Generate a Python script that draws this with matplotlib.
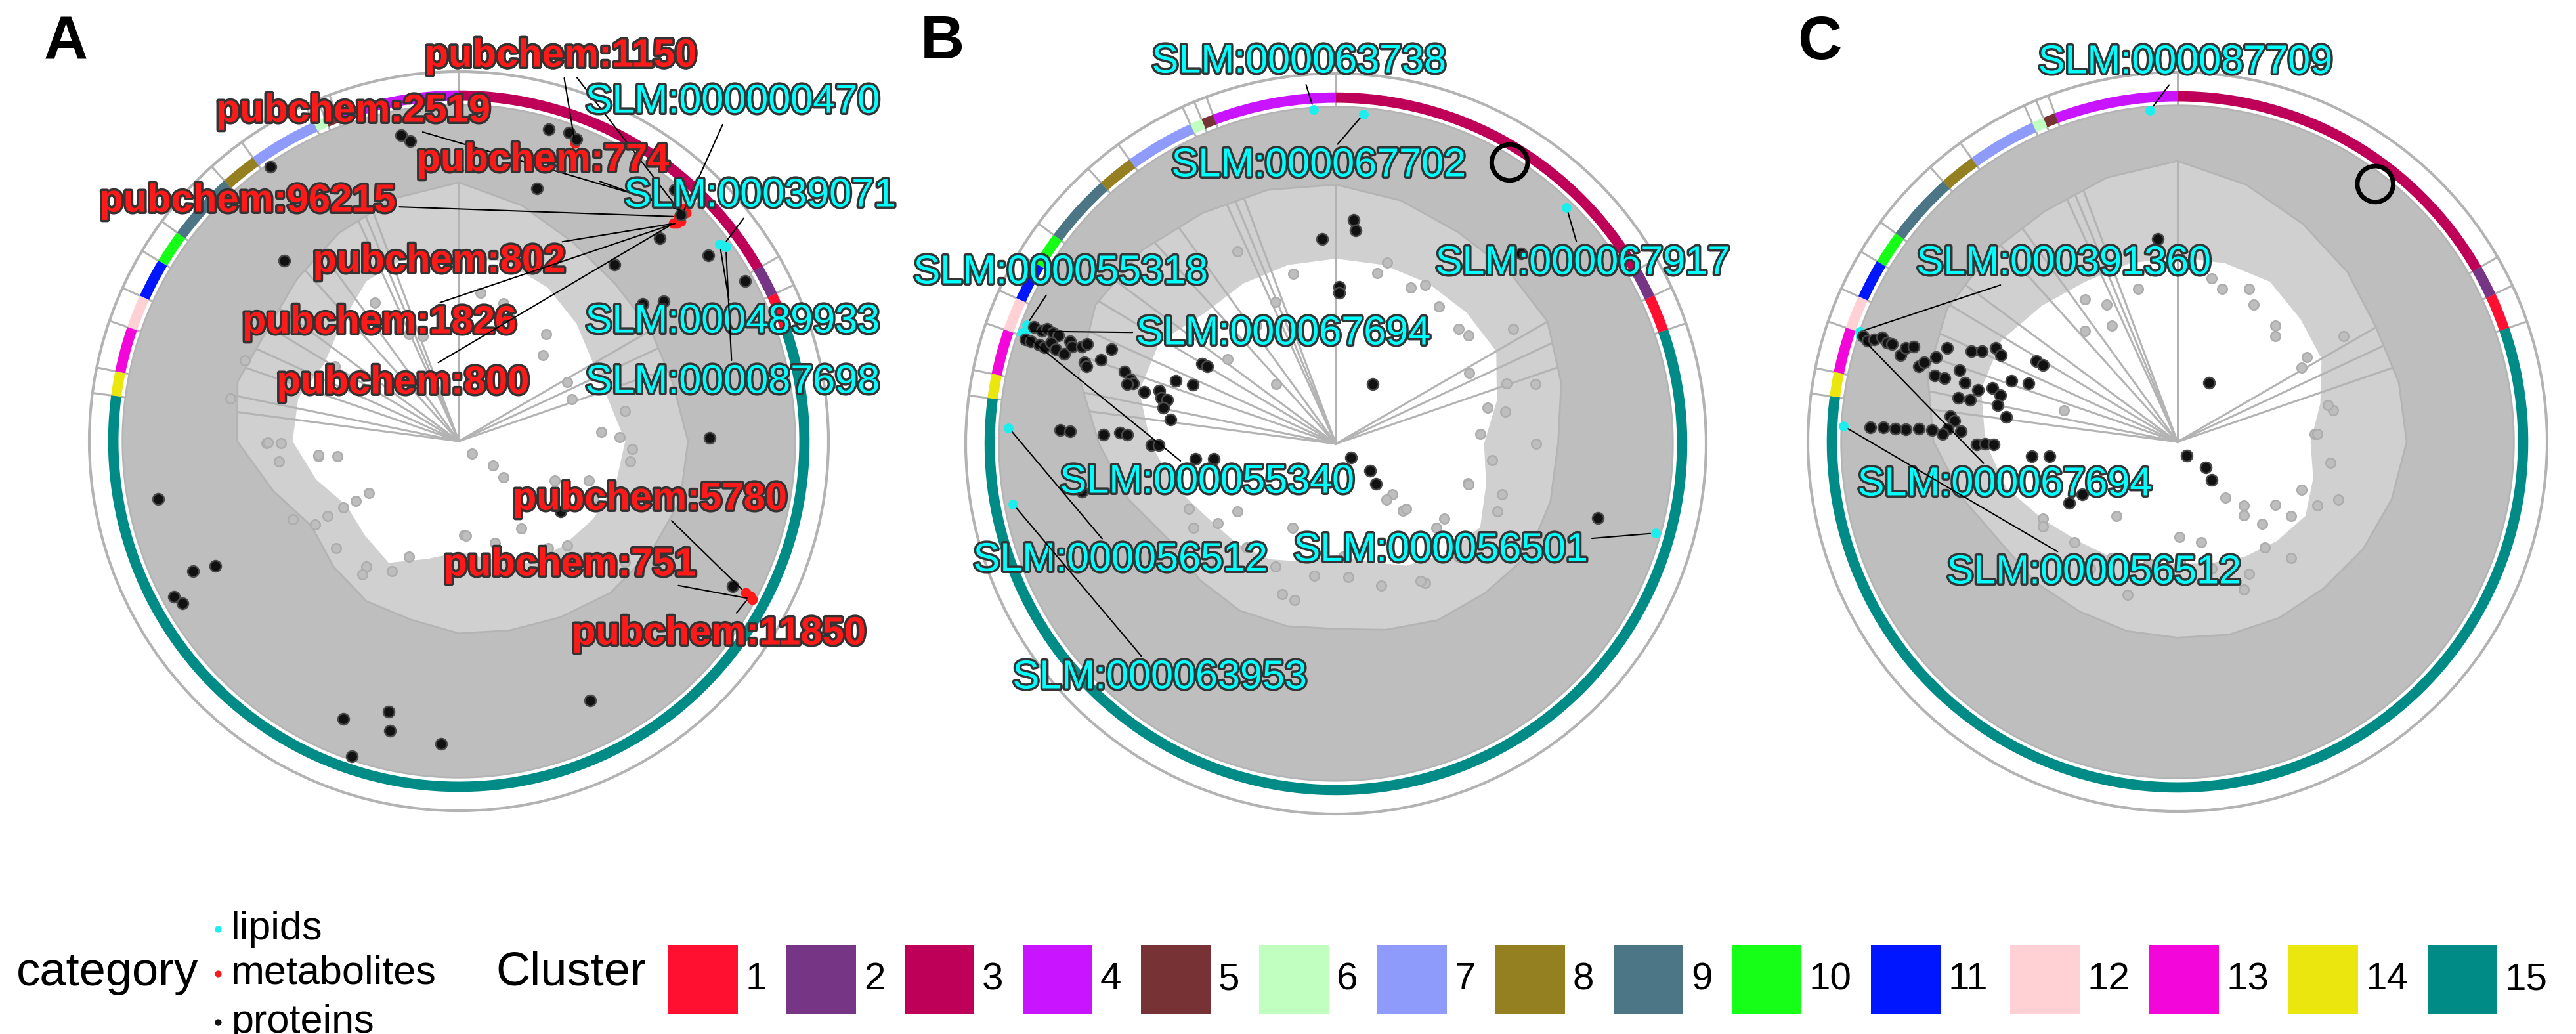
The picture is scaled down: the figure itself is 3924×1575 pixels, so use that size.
import numpy as np
import matplotlib
matplotlib.use("Agg")
import matplotlib.pyplot as plt
import matplotlib.patheffects as pe
from matplotlib.patches import PathPatch, Rectangle
from matplotlib.path import Path

plt.rcParams["font.family"] = ["Liberation Sans", "DejaVu Sans"]

W, H = 3924, 1575

# ---------------- data ----------------
# clusters around the circle, angles in degrees clockwise from 12 o'clock
cluster_ids = [1, 2, 3, 4, 5, 6, 7, 8, 9, 10, 11, 12, 13, 14, 15]
cluster_colors = ["#FF1030", "#773585", "#BE0058", "#C814FF", "#773235",
                  "#C1FFC1", "#8E9BFA", "#958021", "#4C7686", "#16FF16",
                  "#0016FF", "#FFD1D4", "#F206DA", "#ECE60F", "#008B87"]
cluster_start = [65, 60, 0, 339.5, 337.5, 335.5, 324, 318, 306.5, 301,
                 294.5, 289, 281.5, 277.5, 71]
cluster_end = [71, 65, 60, 360, 339.5, 337.5, 335.5, 324, 318, 306.5,
               301, 294.5, 289, 281.5, 277.5]

# grey cloud: radius where the dense part starts, and where the loose part ends
cloud_angle = [0, 15, 30, 45, 60, 75, 90, 105, 120, 135, 150, 165,
               180, 195, 210, 225, 240, 255, 270, 285, 300, 315, 330, 345]
a_dense = [0.7, 0.66, 0.62, 0.6, 0.6, 0.6, 0.62, 0.62, 0.6, 0.58, 0.55, 0.53,
           0.52, 0.5, 0.5, 0.48, 0.46, 0.52, 0.6, 0.62, 0.6, 0.62, 0.65, 0.68]
a_hole = [0.5, 0.5, 0.48, 0.45, 0.42, 0.42, 0.45, 0.44, 0.42, 0.4, 0.38, 0.33,
          0.3, 0.33, 0.38, 0.36, 0.35, 0.4, 0.45, 0.45, 0.42, 0.45, 0.5, 0.52]
b_dense = [0.7, 0.68, 0.66, 0.66, 0.66, 0.63, 0.6, 0.6, 0.6, 0.57, 0.55, 0.52,
           0.5, 0.51, 0.52, 0.52, 0.52, 0.58, 0.64, 0.72, 0.75, 0.74, 0.72, 0.71]
b_hole = [0.5, 0.5, 0.5, 0.5, 0.5, 0.45, 0.4, 0.42, 0.45, 0.42, 0.38, 0.33,
          0.3, 0.33, 0.36, 0.38, 0.4, 0.45, 0.5, 0.55, 0.55, 0.5, 0.5, 0.5]
c_dense = [0.76, 0.72, 0.68, 0.65, 0.62, 0.62, 0.62, 0.6, 0.58, 0.56, 0.55, 0.54,
           0.53, 0.53, 0.53, 0.54, 0.55, 0.6, 0.66, 0.7, 0.72, 0.72, 0.72, 0.74]
c_hole = [0.5, 0.5, 0.5, 0.47, 0.45, 0.4, 0.36, 0.38, 0.4, 0.38, 0.36, 0.34,
          0.33, 0.34, 0.36, 0.38, 0.42, 0.48, 0.52, 0.55, 0.55, 0.52, 0.5, 0.5]

# loose grey points inside the cloud's hollow (angle, radius)
a_sparse = [(132.6, 0.049), (125.3, 0.114), (128.7, 0.155), (264, 0.383), (263, 0.331),
            (240, 0.322), (240, 0.28), (176.8, 0.255), (86.4, 0.386), (79.7, 0.457),
            (96.7, 0.467), (269.5, 0.521), (263.6, 0.489), (216.3, 0.422), (203.5, 0.34),
            (156.2, 0.372), (134, 0.407), (112.9, 0.396), (107.9, 0.548), (334.8, 0.319),
            (18, 0.393), (39.2, 0.373), (61.4, 0.334), (301.1, 0.392),
            (269.7, 0.517), (269.4, 0.482), (264.5, 0.381), (240.1, 0.36), (240.3, 0.408),
            (240, 0.45), (244.8, 0.496), (229, 0.44), (215.8, 0.445), (207.2, 0.395),
            (175.6, 0.257), (160.5, 0.293), (144.5, 0.291), (106.9, 0.367), (88.6, 0.436),
            (92.7, 0.469), (140.2, 0.376), (126.1, 0.556), (112.3, 0.281), (341, 0.3),
            (328.7, 0.439), (8.3, 0.405), (22.1, 0.363), (44.5, 0.325), (69.5, 0.327),
            (290.4, 0.479), (290.7, 0.619), (280.5, 0.629)]
b_sparse = [(86, 0.391), (79.3, 0.466), (62.1, 0.408), (73.4, 0.563), (106.7, 0.373),
            (112.7, 0.472), (135, 0.257), (129.9, 0.353), (132, 0.205), (207.2, 0.255),
            (235.6, 0.322), (239.5, 0.446), (174.8, 0.362), (199.8, 0.431), (147.3, 0.447),
            (345.8, 0.473), (15.7, 0.508), (29.4, 0.492), (332.9, 0.583), (46.9, 0.453),
            (57.1, 0.571), (315, 0.228),
            (137.6, 0.203), (132.9, 0.258), (124.6, 0.355), (96.1, 0.425), (107.2, 0.374),
            (106.9, 0.469), (76.6, 0.421), (70.6, 0.489), (50.7, 0.462), (37, 0.464),
            (25.5, 0.468), (13.5, 0.475), (337, 0.417), (326, 0.384), (307.9, 0.371),
            (176.3, 0.306), (189.3, 0.362), (206.1, 0.369), (220.7, 0.369), (236, 0.384),
            (246.1, 0.434), (162.2, 0.403), (148.4, 0.435), (132.7, 0.451), (194.7, 0.437),
            (227.2, 0.469), (90, 0.54)]
c_sparse = [(86.7, 0.372), (78.5, 0.43), (59.2, 0.391), (122.9, 0.315), (114.4, 0.416),
            (138.2, 0.268), (140.5, 0.37), (178.7, 0.321), (166.7, 0.279), (219.4, 0.259),
            (240.4, 0.419), (214.5, 0.416), (155.9, 0.438), (330.4, 0.361), (16.3, 0.432),
            (29.1, 0.425), (327, 0.46), (42.8, 0.389), (285.6, 0.319), (57.6, 0.533),
            (139.4, 0.198), (133.8, 0.248), (134.1, 0.318), (123.1, 0.367), (86.8, 0.379),
            (97.9, 0.418), (111, 0.36), (109.8, 0.463), (76.2, 0.419), (56.9, 0.418),
            (40.1, 0.411), (25, 0.457), (11.8, 0.452), (345.5, 0.428), (332.6, 0.418),
            (320.2, 0.39), (179, 0.257), (193.4, 0.338), (209.6, 0.361), (225.7, 0.389),
            (237.9, 0.43), (164.8, 0.355), (151.6, 0.406), (135.7, 0.44), (198.1, 0.436),
            (227.9, 0.49)]

# proteins (angle, radius)
a_proteins = [(349.3, 0.842), (350.8, 0.823), (16.1, 0.879), (19.7, 0.887), (21.3, 0.877),
              (325.5, 0.90), (17.2, 0.715), (40.7, 0.897), (44.4, 0.858), (44.7, 0.772),
              (41.4, 0.637), (315.9, 0.680), (53.3, 0.842), (60.8, 0.888), (53.3, 0.62),
              (55.7, 0.671), (89.2, 0.679), (124.6, 0.335), (118.0, 0.838), (153.2, 0.786),
              (183.3, 0.82), (193.4, 0.806), (194.6, 0.757), (202.6, 0.814), (198.8, 0.90),
              (259.1, 0.828), (243.9, 0.801), (242.8, 0.74), (241.3, 0.878), (239.6, 0.866)]
b_proteins = [(4.6, 0.607), (5.2, 0.578), (356.1, 0.554), (1.2, 0.423), (1.3, 0.408),
              (44.2, 0.717), (31.8, 0.189), (132.8, 0.055), (128.3, 0.118), (134.6, 0.153),
              (105.8, 0.735), (263.9, 0.381), (263, 0.332), (259.3, 0.698),
              (291.1, 0.875), (291.0, 0.851), (291.7, 0.839), (291.4, 0.821), (291.3, 0.805),
              (288.6, 0.885), (288.6, 0.869), (288.5, 0.845), (288.3, 0.829), (289.5, 0.816),
              (288.7, 0.799), (288.3, 0.774), (291.1, 0.769), (290.2, 0.759), (290.9, 0.734),
              (291.8, 0.724), (292.8, 0.657), (289.6, 0.674), (288.0, 0.714), (287.2, 0.705),
              (288.9, 0.603), (287.3, 0.582), (286.6, 0.572), (285.9, 0.586), (285.1, 0.537),
              (286.7, 0.498), (284.7, 0.487), (284.7, 0.471), (281.9, 0.477), (278.3, 0.452),
              (291.5, 0.465), (292.4, 0.419), (300.8, 0.422), (301.0, 0.405), (272.8, 0.746),
              (272.7, 0.718), (272.3, 0.628), (272.9, 0.584), (272.6, 0.564), (269.5, 0.499),
              (269.5, 0.478)]
c_proteins = [(354.5, 0.551), (28.2, 0.181), (145.3, 0.045), (132.2, 0.102), (137.9, 0.139),
              (264.4, 0.397), (263.7, 0.349), (240.7, 0.336), (240.9, 0.294),
              (288.6, 0.897), (288.1, 0.882), (288.7, 0.867), (289.4, 0.848), (288.9, 0.830),
              (288.9, 0.816), (287.4, 0.786), (289.1, 0.778), (289.8, 0.759), (286.3, 0.729),
              (287.4, 0.718), (289.3, 0.692), (292.1, 0.673), (285.2, 0.681), (285.2, 0.654),
              (288.1, 0.621), (293.8, 0.609), (294.9, 0.583), (297.2, 0.554), (296.2, 0.533),
              (299.8, 0.44), (299.6, 0.419), (290.1, 0.479), (291.3, 0.433), (285.5, 0.598),
              (284.5, 0.558), (281.3, 0.605), (281.5, 0.573), (286.3, 0.521), (284.7, 0.495),
              (281.6, 0.496), (278.2, 0.469), (276.4, 0.618), (275.4, 0.607), (272.8, 0.586),
              (273.3, 0.622), (271.9, 0.636), (272.8, 0.665), (272.9, 0.701), (272.6, 0.736),
              (272.7, 0.765), (272.8, 0.797), (272.7, 0.832), (269.2, 0.543), (269.5, 0.521),
              (269.2, 0.497)]

# lipids and metabolites with their ids (angle, radius, id)
a_lipids = [(44.6, 0.86, "SLM:000000470"), (53.5, 0.889, "SLM:00039071"),
            (53.0, 0.884, "SLM:000489933"), (54.0, 0.893, "SLM:000087698")]
a_metabolites = [(21.3, 0.865, "pubchem:1150"), (44.3, 0.862, "pubchem:1150"),
                 (44.0, 0.875, "pubchem:2519"), (44.8, 0.872, "pubchem:774"),
                 (44.4, 0.85, "pubchem:96215"), (45.0, 0.835, "pubchem:802"),
                 (45.3, 0.845, "pubchem:1826"), (44.6, 0.828, "pubchem:800"),
                 (117.9, 0.878, "pubchem:5780"), (118.3, 0.902, "pubchem:751"),
                 (118.0, 0.893, "pubchem:11850")]
b_lipids = [(356.2, 0.905, "SLM:000063738"), (4.8, 0.894, "SLM:000067702"),
            (44.3, 0.892, "SLM:000067917"), (291.0, 0.895, "SLM:000055318"),
            (290.0, 0.89, "SLM:000067694"), (289.5, 0.9, "SLM:000055340"),
            (272.8, 0.885, "SLM:000056512"), (259.4, 0.887, "SLM:000063953"),
            (105.6, 0.897, "SLM:000056501")]
c_lipids = [(355.3, 0.90, "SLM:000087709"), (289.1, 0.91, "SLM:000391360"),
            (288.3, 0.903, "SLM:000067694"), (272.7, 0.905, "SLM:000056512")]

# highlighted spot (open ring) in B and C
b_ring_mark = (31.7, 0.893)
c_ring_mark = (37.5, 0.879)

category_names = ["lipids", "metabolites", "proteins"]

# ---------------- layout ----------------
GREY = "#BEBEBE"
LOOSE_GREY = "#D0D0D0"
LINE_GREY = "#B3B3B3"
CYAN = "#1CEEEE"
RED = "#FF1A1A"
CLOUD_R = 0.91

# label centres in pixels from the top-left corner of the figure
a_label_xy = {"pubchem:1150": (854, 86), "pubchem:2519": (538, 170),
              "pubchem:774": (827, 245), "pubchem:96215": (377, 307),
              "pubchem:802": (669, 399), "pubchem:1826": (578, 492),
              "pubchem:800": (614, 584), "SLM:000000470": (1116, 156),
              "SLM:00039071": (1158, 299), "SLM:000489933": (1116, 491),
              "SLM:000087698": (1116, 583), "pubchem:5780": (990, 761),
              "pubchem:751": (868, 861), "pubchem:11850": (1095, 966)}
b_label_xy = {"SLM:000063738": (1979, 95), "SLM:000067702": (2009, 253),
              "SLM:000067917": (2411, 402), "SLM:000055318": (1616, 416),
              "SLM:000067694": (1955, 509), "SLM:000055340": (1839, 735),
              "SLM:000056512": (1707, 854), "SLM:000063953": (1767, 1033),
              "SLM:000056501": (2195, 839)}
c_label_xy = {"SLM:000087709": (3329, 96), "SLM:000391360": (3144, 402),
              "SLM:000067694": (3054, 739), "SLM:000056512": (3190, 873)}

fig = plt.figure(figsize=(W / 100, H / 100), dpi=100)


def panel_rect(cx, cy, R):
    return [(cx - R) / W, (H - cy - R) / H, 2 * R / W, 2 * R / H]


def ring_path(inner):
    # disc of radius CLOUD_R with a hole following `inner`
    t = np.linspace(0, 2 * np.pi, 361)
    outer = np.column_stack([t, np.full_like(t, CLOUD_R)])
    it = np.radians(cloud_angle)[::-1]
    ir = np.array(inner)[::-1]
    hole = np.column_stack([np.append(it, it[0]), np.append(ir, ir[0])])
    codes = ([Path.MOVETO] + [Path.LINETO] * (len(outer) - 1)
             + [Path.MOVETO] + [Path.LINETO] * (len(hole) - 1))
    return Path(np.vstack([outer, hole]), codes)


def draw_panel(rect, dense, hole, sparse, proteins, lipids, metabolites, label_xy,
               ring_mark=None):
    ax = fig.add_axes(rect, projection="polar")
    ax.set_theta_zero_location("N")
    ax.set_theta_direction(-1)
    ax.set_ylim(0, 1)
    ax.set_xticks([])
    ax.set_yticks([])
    ax.grid(False)
    ax.spines["polar"].set_color(LINE_GREY)
    ax.spines["polar"].set_linewidth(3)

    # loose part of the cloud, then the cluster boundaries, then the dense part
    ax.add_patch(PathPatch(ring_path(hole), facecolor=LOOSE_GREY, edgecolor="none",
                           transform=ax.transData, zorder=1))
    for b in sorted(set(cluster_start)):
        ax.plot([np.radians(b)] * 2, [0, 1], color=LINE_GREY, lw=2.2, zorder=1.5)
    ax.add_patch(PathPatch(ring_path(dense), facecolor=GREY, edgecolor="#B4B4B4",
                           lw=2, transform=ax.transData, zorder=2))
    ax.scatter(np.radians([p[0] for p in sparse]), [p[1] for p in sparse], s=110,
               facecolor=GREY, edgecolor="#ADADAD", lw=1.8, zorder=2)

    # cluster ring
    ax.bar(np.radians(cluster_start), 0.028,
           width=np.radians(np.array(cluster_end) - np.array(cluster_start)),
           bottom=0.921, align="edge", color=cluster_colors, linewidth=0, zorder=3)

    # points
    if lipids:
        ax.scatter(np.radians([p[0] for p in lipids]), [p[1] for p in lipids],
                   s=115, color=CYAN, lw=0, zorder=4)
    if metabolites:
        ax.scatter(np.radians([p[0] for p in metabolites]), [p[1] for p in metabolites],
                   s=130, color=RED, lw=0, zorder=4.1)
    ax.scatter(np.radians([p[0] for p in proteins]), [p[1] for p in proteins],
               s=150, facecolor="#111111", edgecolor="#4A4A4A", lw=1.8, zorder=4.2)
    if ring_mark:
        ax.scatter([np.radians(ring_mark[0])], [ring_mark[1]], s=1550,
                   facecolor="none", edgecolor="black", lw=5, zorder=4.3)

    # labels
    for th, r, name in list(metabolites) + list(lipids):
        x, y = label_xy[name]
        red = name.startswith("pubchem")
        ax.annotate(name, xy=(np.radians(th), r), xytext=(x, H - y),
                    textcoords="figure pixels", ha="center", va="center",
                    fontsize=43 if red else 44, fontweight="bold" if red else "normal",
                    color=RED if red else "#00FFFF", zorder=6,
                    path_effects=[pe.withStroke(linewidth=5, foreground="#333333")],
                    arrowprops=dict(arrowstyle="-", color="black", lw=1.5,
                                    shrinkA=2, shrinkB=6))
    return ax


def main():
    # legend area in pixel coordinates
    leg = fig.add_axes([0, 0, 1, 1])
    leg.set_xlim(0, W)
    leg.set_ylim(H, 0)
    leg.axis("off")

    leg.text(25, 1483, "category", fontsize=52, va="center", ha="left")
    for y, name, col in zip([1415, 1483, 1557], category_names, [CYAN, RED, "#111111"]):
        leg.scatter([332], [y], s=55, color=col, lw=0)
        leg.text(352, y, name, fontsize=44, va="center", ha="left")

    leg.text(755, 1482, "Cluster", fontsize=52, va="center", ha="left")
    x = 1018
    for cid, col in zip(cluster_ids, cluster_colors):
        leg.add_patch(Rectangle((x, 1439), 106, 105, color=col, lw=0))
        leg.text(x + 118, 1492, str(cid), fontsize=42, va="center", ha="left")
        x += 106 + 12 + 32 * len(str(cid)) + 30

    draw_panel(panel_rect(699, 672, 563), a_dense, a_hole, a_sparse, a_proteins,
               a_lipids, a_metabolites, a_label_xy)
    draw_panel(panel_rect(2035, 676, 564), b_dense, b_hole, b_sparse, b_proteins,
               b_lipids, [], b_label_xy, b_ring_mark)
    draw_panel(panel_rect(3317, 673, 563), c_dense, c_hole, c_sparse, c_proteins,
               c_lipids, [], c_label_xy, c_ring_mark)

    for letter, (x, y) in zip("ABC", [(100, 65), (1435, 65), (2772, 66)]):
        fig.text(x / W, 1 - y / H, letter, fontsize=67, fontweight="bold",
                 ha="center", va="center")

    fig.savefig("out.png", dpi=100)


if __name__ == "__main__":
    main()
